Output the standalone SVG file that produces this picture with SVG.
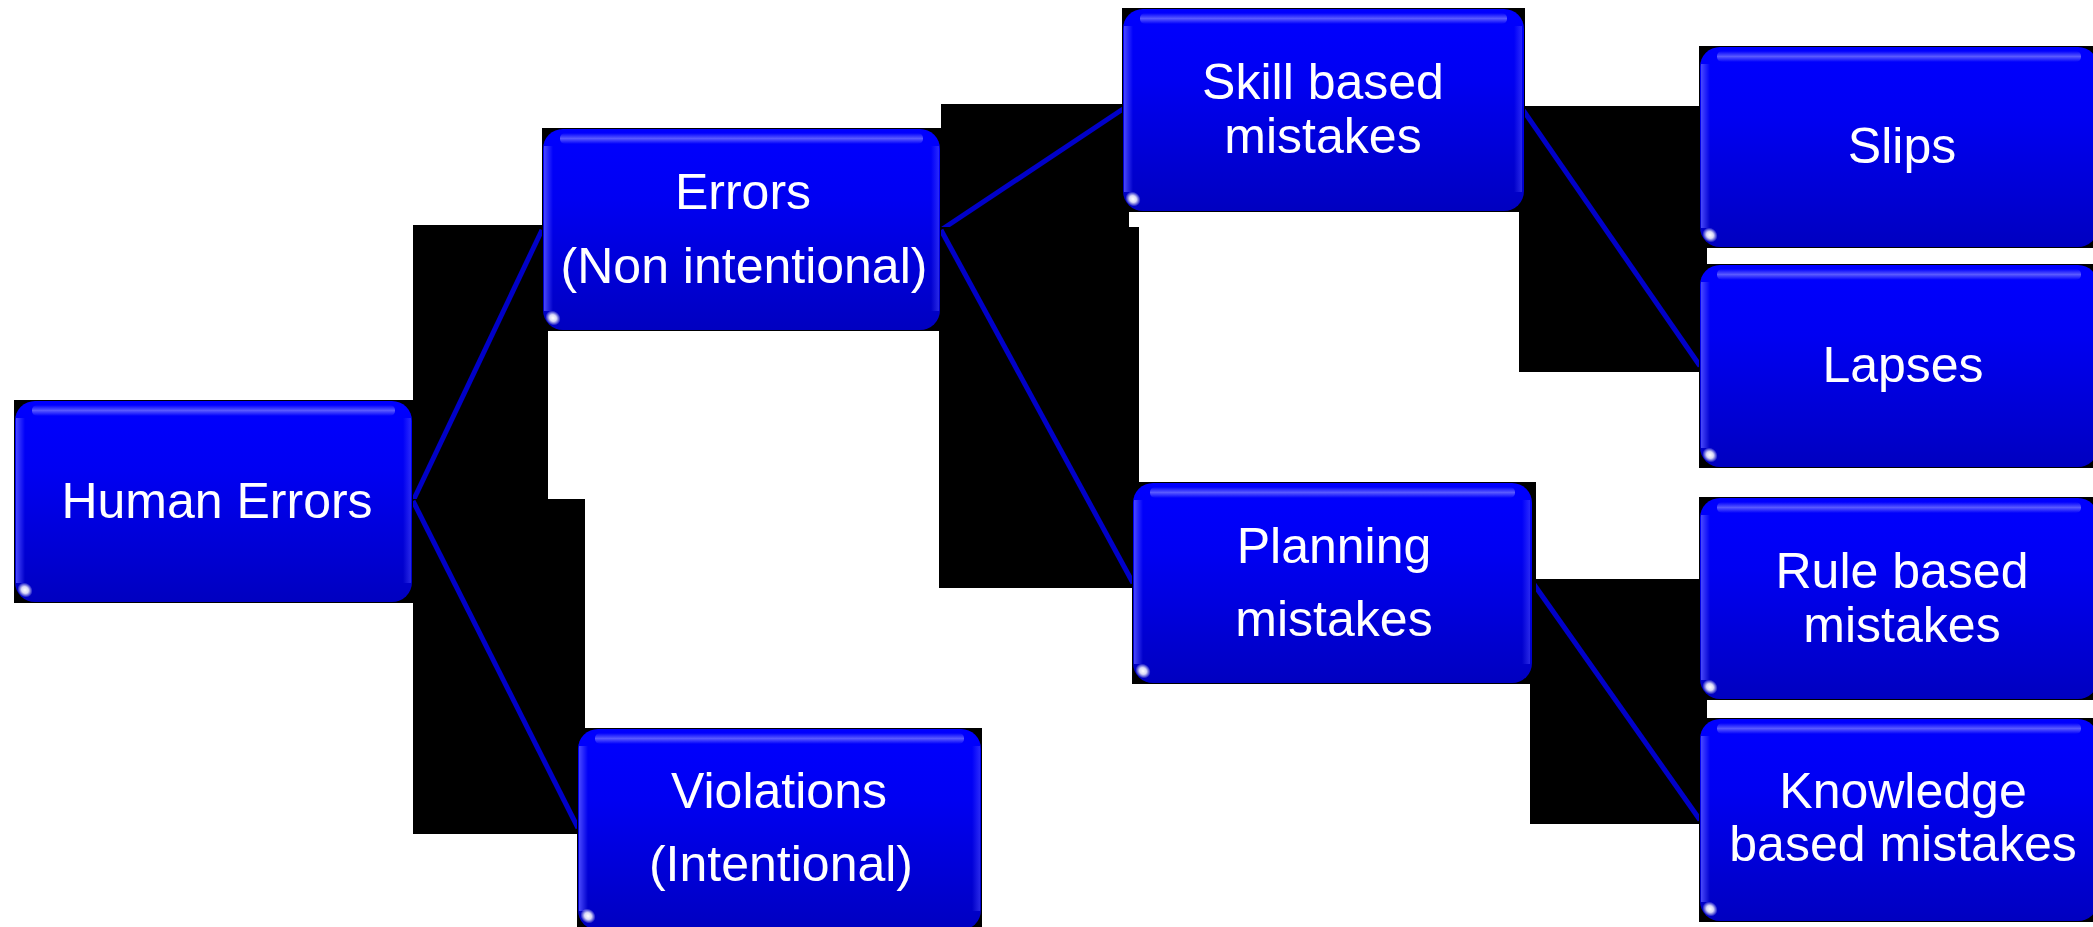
<svg xmlns="http://www.w3.org/2000/svg" width="2093" height="927" viewBox="0 0 2093 927">
<defs>
<linearGradient id="body" x1="0" y1="0" x2="0" y2="1">
<stop offset="0" stop-color="#0000ff"/>
<stop offset="0.35" stop-color="#0000f2"/>
<stop offset="1" stop-color="#0000c0"/>
</linearGradient>
<linearGradient id="topband" x1="0" y1="0" x2="0" y2="1">
<stop offset="0" stop-color="#8080ff" stop-opacity="0"/>
<stop offset="0.5" stop-color="#8080ff" stop-opacity="0.7"/>
<stop offset="1" stop-color="#8080ff" stop-opacity="0"/>
</linearGradient>
<linearGradient id="sideL" x1="0" y1="0" x2="1" y2="0">
<stop offset="0" stop-color="#5050ff" stop-opacity="0.9"/>
<stop offset="1" stop-color="#5050ff" stop-opacity="0"/>
</linearGradient>
<linearGradient id="sideR" x1="1" y1="0" x2="0" y2="0">
<stop offset="0" stop-color="#5050ff" stop-opacity="0.5"/>
<stop offset="1" stop-color="#5050ff" stop-opacity="0"/>
</linearGradient>
<radialGradient id="dot" cx="0.5" cy="0.5" r="0.5">
<stop offset="0" stop-color="#ffffff"/>
<stop offset="0.45" stop-color="#ffffff" stop-opacity="0.85"/>
<stop offset="1" stop-color="#ffffff" stop-opacity="0"/>
</radialGradient>
</defs>
<style>
.bg{fill:#000}
.body{fill:url(#body)}
.tb{fill:url(#topband)}
.sl{fill:url(#sideL)}
.sr{fill:url(#sideR)}
.dot{fill:url(#dot)}
.conn rect{fill:#000}
.conn line{stroke:#0000c8;stroke-width:5;stroke-linecap:butt}
text{font-family:"Liberation Sans",Arial,sans-serif;font-size:50px;fill:#fff;text-anchor:middle}
</style>
<rect width="2093" height="927" fill="#fff"/>

<g id="connectors" class="conn">
<rect x="413" y="225" width="135" height="280"/>
<line x1="413" y1="501" x2="542" y2="230"/>
<rect x="413" y="499" width="172" height="335"/>
<line x1="413" y1="501" x2="578" y2="828"/>
<rect x="941" y="104" width="188" height="130"/>
<line x1="941" y1="230" x2="1123" y2="109"/>
<rect x="939" y="227" width="200" height="361"/>
<line x1="941" y1="230" x2="1133" y2="583"/>
<rect x="1519" y="106" width="188" height="266"/>
<line x1="1523" y1="110" x2="1700" y2="366"/>
<rect x="1530" y="579" width="177" height="245"/>
<line x1="1533" y1="583" x2="1700" y2="820"/>
</g>

<g id="node-human">
<rect class="bg" x="14" y="400" width="399" height="203"/>
<rect class="body" x="15" y="401" width="397" height="201" rx="20"/>
<rect class="tb" x="32" y="405" width="363" height="11" rx="5"/>
<rect class="sl" x="16" y="418" width="9" height="165"/>
<rect class="sr" x="403" y="418" width="8" height="165"/>
<ellipse class="dot" cx="25" cy="590" rx="8" ry="7" transform="rotate(40 25 590)"/>
<text x="217" y="518">Human Errors</text>
</g>

<g id="node-errors">
<rect class="bg" x="542" y="128" width="399" height="203"/>
<rect class="body" x="543" y="129" width="397" height="201" rx="20"/>
<rect class="tb" x="560" y="133" width="363" height="11" rx="5"/>
<rect class="sl" x="544" y="146" width="9" height="165"/>
<rect class="sr" x="931" y="146" width="8" height="165"/>
<ellipse class="dot" cx="553" cy="318" rx="8" ry="7" transform="rotate(40 553 318)"/>
<text x="743" y="209">Errors</text>
<text x="744" y="283">(Non intentional)</text>
</g>

<g id="node-violations">
<rect class="bg" x="577" y="728" width="405" height="203"/>
<rect class="body" x="578" y="729" width="403" height="201" rx="20"/>
<rect class="tb" x="595" y="733" width="369" height="11" rx="5"/>
<rect class="sl" x="579" y="746" width="9" height="165"/>
<rect class="sr" x="972" y="746" width="8" height="165"/>
<ellipse class="dot" cx="588" cy="916" rx="8" ry="7" transform="rotate(40 588 916)"/>
<text x="779" y="808">Violations</text>
<text x="781" y="881">(Intentional)</text>
</g>

<g id="node-skill">
<rect class="bg" x="1122" y="8" width="403" height="204"/>
<rect class="body" x="1123" y="9" width="401" height="202" rx="20"/>
<rect class="tb" x="1140" y="13" width="367" height="11" rx="5"/>
<rect class="sl" x="1124" y="26" width="9" height="166"/>
<rect class="sr" x="1514" y="26" width="8" height="166"/>
<ellipse class="dot" cx="1133" cy="199" rx="8" ry="7" transform="rotate(40 1133 199)"/>
<text x="1323" y="99">Skill based</text>
<text x="1323" y="153">mistakes</text>
</g>

<g id="node-planning">
<rect class="bg" x="1132" y="482" width="404" height="202"/>
<rect class="body" x="1133" y="483" width="399" height="200" rx="20"/>
<rect class="tb" x="1150" y="487" width="365" height="11" rx="5"/>
<rect class="sl" x="1134" y="500" width="9" height="164"/>
<rect class="sr" x="1522" y="500" width="8" height="164"/>
<ellipse class="dot" cx="1143" cy="671" rx="8" ry="7" transform="rotate(40 1143 671)"/>
<text x="1334" y="563">Planning</text>
<text x="1334" y="636">mistakes</text>
</g>

<g id="node-slips">
<rect class="bg" x="1699" y="46" width="400" height="202"/>
<rect class="body" x="1700" y="47" width="398" height="200" rx="20"/>
<rect class="tb" x="1717" y="51" width="364" height="11" rx="5"/>
<rect class="sl" x="1701" y="64" width="9" height="164"/>
<ellipse class="dot" cx="1710" cy="235" rx="8" ry="7" transform="rotate(40 1710 235)"/>
<text x="1902" y="163">Slips</text>
</g>

<g id="node-lapses">
<rect class="bg" x="1699" y="264" width="400" height="204"/>
<rect class="body" x="1700" y="265" width="398" height="202" rx="20"/>
<rect class="tb" x="1717" y="269" width="364" height="11" rx="5"/>
<rect class="sl" x="1701" y="282" width="9" height="166"/>
<ellipse class="dot" cx="1710" cy="455" rx="8" ry="7" transform="rotate(40 1710 455)"/>
<text x="1903" y="382">Lapses</text>
</g>

<g id="node-rule">
<rect class="bg" x="1699" y="497" width="400" height="203"/>
<rect class="body" x="1700" y="498" width="398" height="201" rx="20"/>
<rect class="tb" x="1717" y="502" width="364" height="11" rx="5"/>
<rect class="sl" x="1701" y="515" width="9" height="165"/>
<ellipse class="dot" cx="1710" cy="687" rx="8" ry="7" transform="rotate(40 1710 687)"/>
<text x="1902" y="588">Rule based</text>
<text x="1902" y="642">mistakes</text>
</g>

<g id="node-knowledge">
<rect class="bg" x="1699" y="718" width="400" height="204"/>
<rect class="body" x="1700" y="719" width="398" height="202" rx="20"/>
<rect class="tb" x="1717" y="723" width="364" height="11" rx="5"/>
<rect class="sl" x="1701" y="736" width="9" height="166"/>
<ellipse class="dot" cx="1710" cy="909" rx="8" ry="7" transform="rotate(40 1710 909)"/>
<text x="1903" y="808">Knowledge</text>
<text x="1903" y="861">based mistakes</text>
</g>
</svg>
